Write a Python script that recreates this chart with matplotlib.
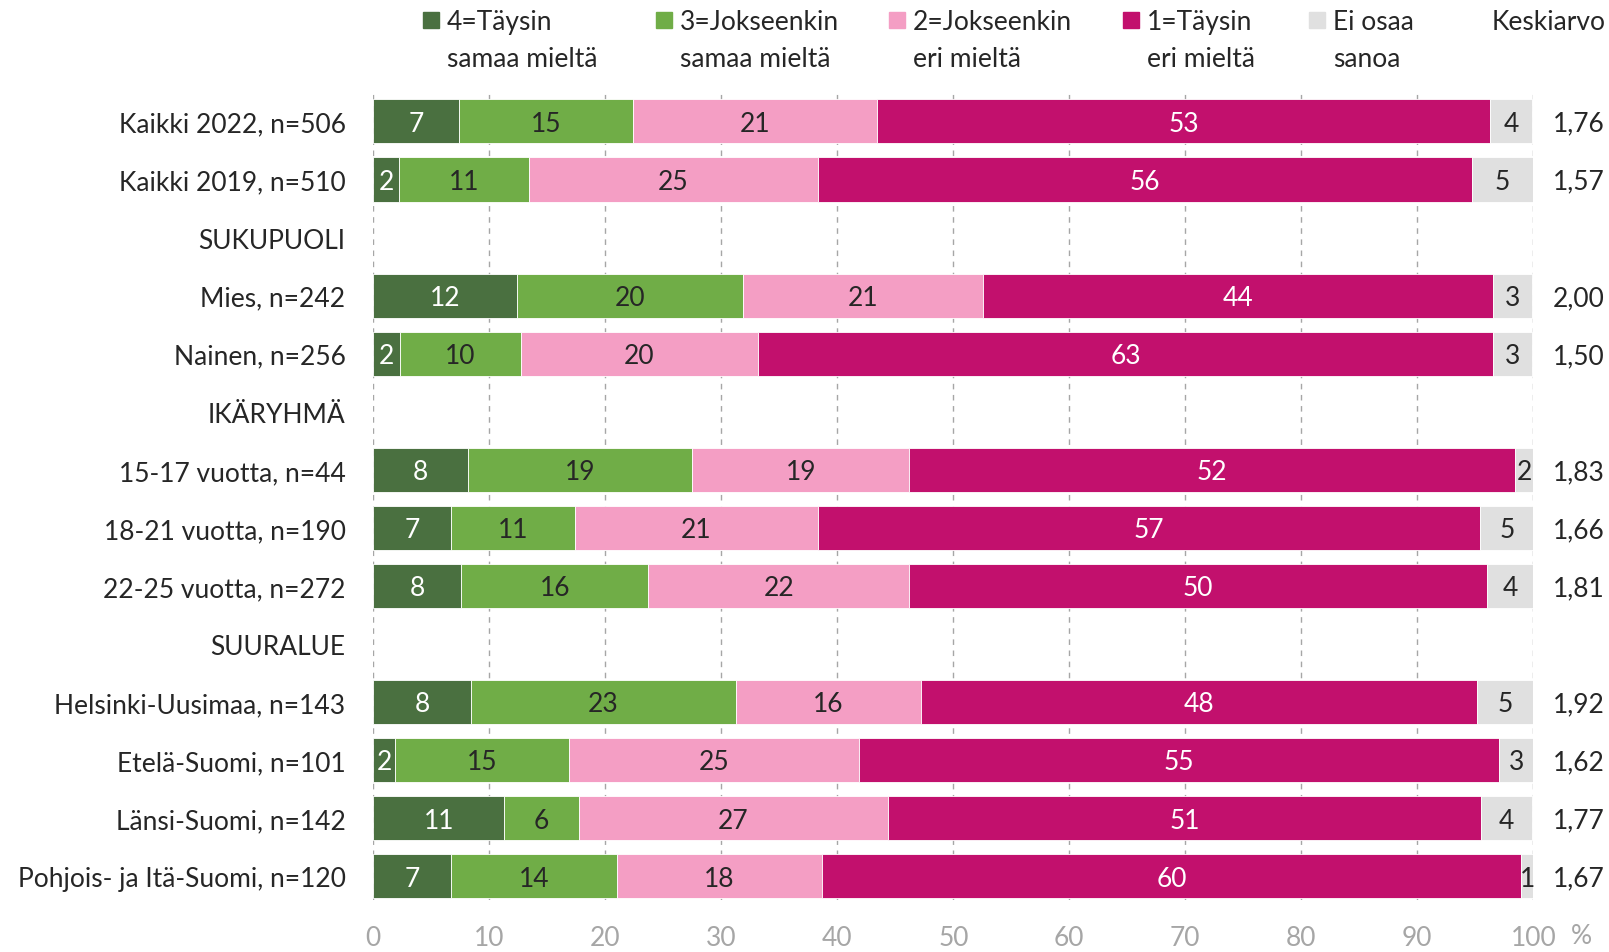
import matplotlib.pyplot as plt
import numpy as np

plt.rcParams['font.family'] = ['Lato', 'DejaVu Sans']

# Rivit (otsikkoriveillä ei palkkia)
rivit = ['Kaikki 2022, n=506', 'Kaikki 2019, n=510', 'SUKUPUOLI',
         'Mies, n=242', 'Nainen, n=256', 'IKÄRYHMÄ',
         '15-17 vuotta, n=44', '18-21 vuotta, n=190', '22-25 vuotta, n=272',
         'SUURALUE', 'Helsinki-Uusimaa, n=143', 'Etelä-Suomi, n=101',
         'Länsi-Suomi, n=142', 'Pohjois- ja Itä-Suomi, n=120']
otsikot = ['SUKUPUOLI', 'IKÄRYHMÄ', 'SUURALUE']

# Osuudet (%) palkkiriveille
taysin_samaa = [7.4, 2.2, 12.4, 2.3, 8.2, 6.7, 7.6, 8.4, 1.9, 11.3, 6.7]
jokseenkin_samaa = [15.0, 11.2, 19.5, 10.4, 19.3, 10.7, 16.1, 22.9, 15.0, 6.4, 14.3]
jokseenkin_eri = [21.0, 24.9, 20.7, 20.5, 18.7, 20.9, 22.5, 15.9, 25.0, 26.7, 17.7]
taysin_eri = [52.9, 56.4, 43.9, 63.3, 52.2, 57.1, 49.8, 47.9, 55.1, 51.1, 60.2]
ei_osaa = [3.6, 5.3, 3.4, 3.4, 1.6, 4.6, 4.0, 4.9, 3.1, 4.4, 1.2]
keskiarvo = ['1,76', '1,57', '2,00', '1,50', '1,83', '1,66', '1,81',
             '1,92', '1,62', '1,77', '1,67']

sarjat = [taysin_samaa, jokseenkin_samaa, jokseenkin_eri, taysin_eri, ei_osaa]
nimet = ['4=Täysin\nsamaa mieltä', '3=Jokseenkin\nsamaa mieltä',
         '2=Jokseenkin\neri mieltä', '1=Täysin\neri mieltä', 'Ei osaa\nsanoa']
varit = ['#4A7040', '#70AD47', '#F49EC4', '#C2106D', '#E0E0E0']
tekstivarit = ['white', '#262626', '#262626', 'white', '#262626']

fs = 19
fig = plt.figure(figsize=(16.09, 9.53), dpi=100)
ax = fig.add_axes([0.232, 0.055, 0.721, 0.847])

y_pos = np.array([i for i, r in enumerate(rivit) if r not in otsikot])

left = np.zeros(len(y_pos))
for arvot, nimi, vari, tv in zip(sarjat, nimet, varit, tekstivarit):
    arvot = np.array(arvot)
    ax.barh(y_pos, arvot, left=left, height=0.76, color=vari,
            edgecolor='white', linewidth=0.6, label=nimi)
    for y, l, v in zip(y_pos, left, arvot):
        ax.text(l + v / 2, y + 0.03, f'{v:.0f}', ha='center', va='center',
                color=tv, fontsize=fs)
    left = left + arvot

# Keskiarvot oikealle
for y, k in zip(y_pos, keskiarvo):
    ax.text(1.0615, y + 0.03, k, transform=ax.get_yaxis_transform(),
            ha='right', va='center', fontsize=fs, color='#262626')

ax.set_xlim(0, 100)
ax.set_ylim(13.4, -0.5)
ax.set_yticks(range(len(rivit)))
ax.set_yticklabels(rivit, fontsize=fs, color='#262626')
ax.set_xticks(range(0, 101, 10))
ax.tick_params(axis='x', colors='#A6A6A6', labelsize=fs, length=0, pad=18)
ax.tick_params(axis='y', length=0, pad=20)
for s in ax.spines.values():
    s.set_visible(False)
ax.xaxis.grid(True, linestyle=(0, (4, 4)), color='#A6A6A6', linewidth=1)
ax.set_axisbelow(True)
fig.text(1581 / 1609, 1 - 937 / 953, '%', ha='center', va='center',
         fontsize=fs, color='#A6A6A6')

# Selite
sel_x = [420, 647, 874, 1102, 1284]
for x, nimi, vari in zip(sel_x, nimet, varit):
    xf = x * 1.026 / 1609
    fig.patches.append(plt.Rectangle((xf - 8 / 1609, 1 - 29 / 953), 16 / 1609,
                                     16 / 953, color=vari,
                                     transform=fig.transFigure, figure=fig))
    fig.text(xf + 16 / 1609, 1 - 41 / 953, nimi, ha='left', va='center',
             fontsize=fs, color='#262626', linespacing=1.6)
fig.text(0.998, 1 - 23 / 953, 'Keskiarvo', ha='right', va='center',
         fontsize=fs, color='#262626')

plt.savefig('out.png', dpi=100)
